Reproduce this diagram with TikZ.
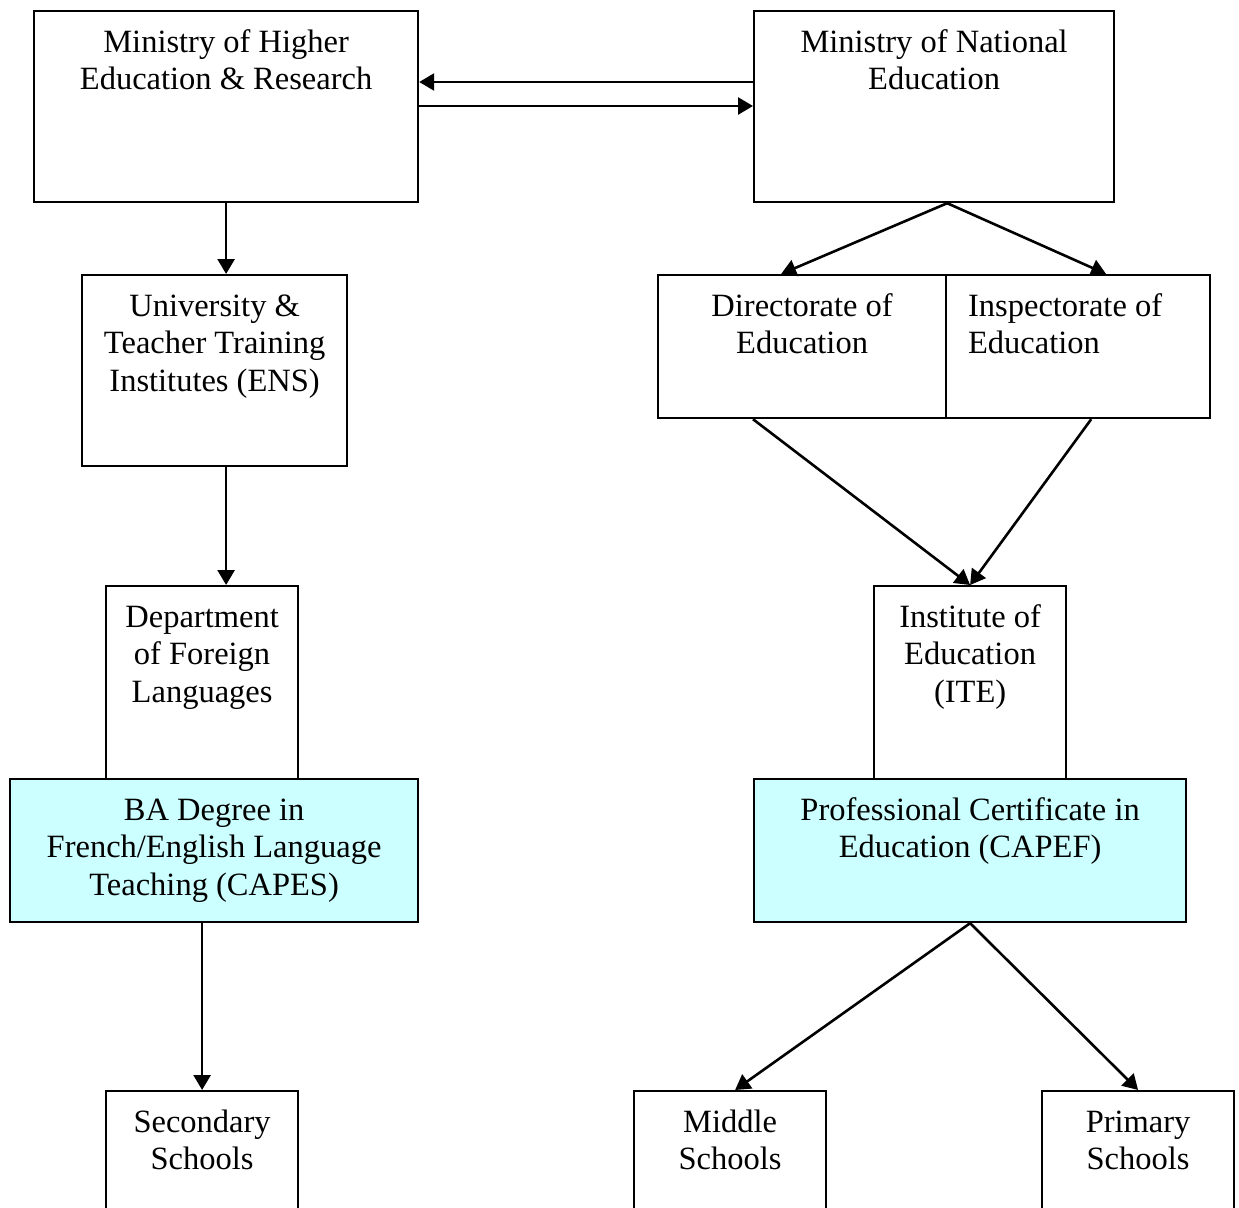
\documentclass[tikz,border=0pt]{standalone}
\usepackage{fontspec}
\setmainfont{Liberation Serif}
\usetikzlibrary{arrows.meta}
\definecolor{certfill}{HTML}{CCFFFF}
% top-aligned, centred text block of fixed width and height
\newcommand{\boxlines}[3]{\parbox[t][#2][t]{#1}{\centering\vspace*{15pt}\strut #3\par}}
% same, but flush left with a small inset
\newcommand{\boxlinesleft}[3]{\parbox[t][#2][t]{#1}{\raggedright\leftskip=22pt\vspace*{15pt}\strut #3\par}}

\begin{document}
\begin{tikzpicture}[x=1pt, y=-1pt,
  every node/.style={font=\fontsize{32.5}{37.5}\selectfont},
  orgbox/.style={draw, line width=2.2pt, inner sep=0pt, anchor=north west},
  certbox/.style={orgbox, fill=certfill},
  link/.style={line width=2.6pt, -{Triangle[length=15pt,width=17pt]}}]
\useasboundingbox (0,0) rectangle (1239,1207);
\clip (0,0) rectangle (1239,1207);

% higher education branch
\node[orgbox] (mhe) at (33,10)  {\boxlines{384pt}{191pt}{Ministry of Higher\\Education \& Research}};
\node[orgbox] (uni) at (81,274) {\boxlines{265pt}{191pt}{University \&\\Teacher Training\\Institutes (ENS)}};
\node[orgbox] (dep) at (105,585) {\boxlines{192pt}{193pt}{Department\\of Foreign\\Languages}};
\node[certbox] (ba) at (9,778) {\boxlines{408pt}{143pt}{BA Degree in\\French/English Language\\Teaching (CAPES)}};
\node[orgbox] (sec) at (105,1090) {\boxlines{192pt}{150pt}{Secondary\\Schools}};

% national education branch
\node[orgbox] (mne) at (753,10)  {\boxlines{360pt}{191pt}{Ministry of National\\Education}};
\node[orgbox] (dir) at (657,274) {\boxlines{288pt}{143pt}{Directorate of\\Education}};
\node[orgbox] (insp) at (945,274) {\boxlinesleft{264pt}{143pt}{Inspectorate of\\Education}};
\node[orgbox] (ite) at (873,585) {\boxlines{192pt}{193pt}{Institute of\\Education\\(ITE)}};
\node[certbox] (pce) at (753,778) {\boxlines{432pt}{143pt}{Professional Certificate in\\Education (CAPEF)}};
\node[orgbox] (mid) at (633,1090) {\boxlines{192pt}{150pt}{Middle\\Schools}};
\node[orgbox] (pri) at (1041,1090) {\boxlines{192pt}{150pt}{Primary\\Schools}};

% links between the two ministries
\draw[link] ([yshift=-72pt]mne.north west) -- ([yshift=-72pt]mhe.north east);
\draw[link] ([yshift=-96pt]mhe.north east) -- ([yshift=-96pt]mne.north west);

% left column
\draw[link] (mhe.south) -- (mhe.south |- uni.north);
\draw[link] (mhe.south |- uni.south) -- (mhe.south |- dep.north);
\draw[link] (sec.north |- ba.south) -- (sec.north);

% right column
\coordinate (apex) at (dir.north east |- mne.south);
\draw[link] (apex) -- ([xshift=-21pt]dir.north);
\draw[link] (apex) -- ([xshift=28pt]insp.north);
\draw[link] ([xshift=96pt]dir.south west) -- (ite.north);
\draw[link] ([xshift=-120pt]insp.south east) -- (ite.north);
\draw[link] (pce.south) -- ([xshift=5pt]mid.north);
\draw[link] (pce.south) -- (pri.north);
\end{tikzpicture}
\end{document}
